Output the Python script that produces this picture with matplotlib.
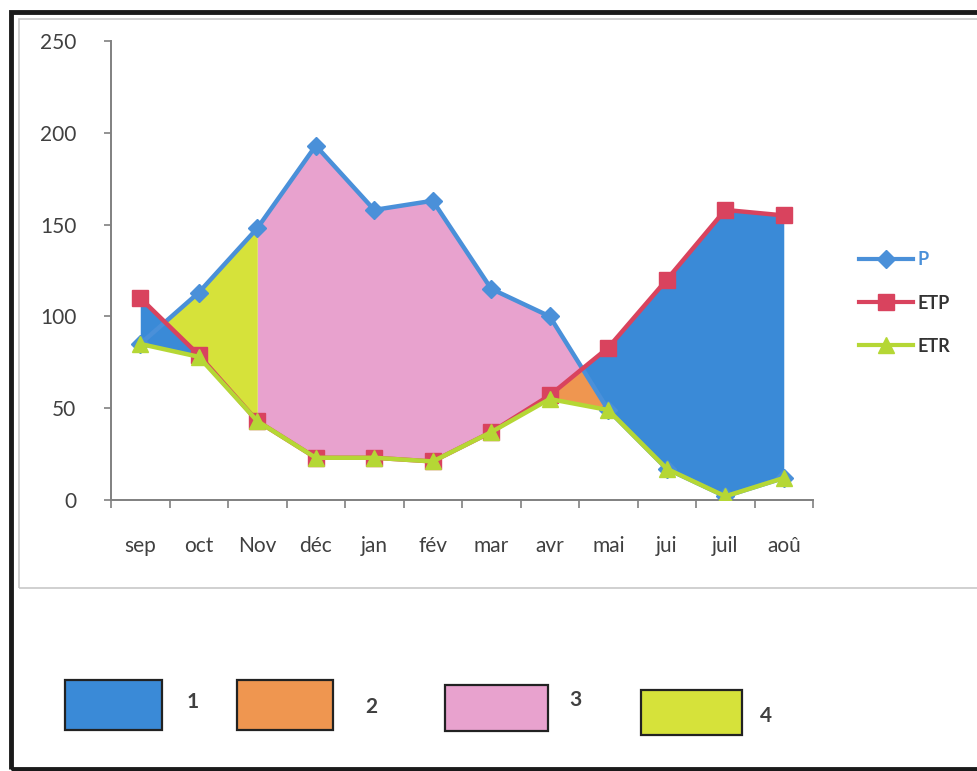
import numpy as np
import matplotlib.pyplot as plt
from matplotlib.lines import Line2D
from matplotlib.patches import Rectangle

# Monthly water balance (mm)
months = ['sep', 'oct', 'Nov', 'déc', 'jan', 'fév', 'mar', 'avr', 'mai', 'jui', 'juil', 'aoû']
P = [85, 113, 148, 193, 158, 163, 115, 100, 49, 17, 2, 12]
ETP = [110, 79, 43, 23, 23, 21, 37, 57, 83, 120, 158, 155]
ETR = [85, 78, 43, 23, 23, 21, 37, 55, 49, 17, 2, 12]

series_names = ['P', 'ETP', 'ETR']
zone_labels = ['1', '2', '3', '4']

c_p, c_etp, c_etr = '#4A90D9', '#D9435E', '#B5D735'
zone_colors = ['#3A8AD7', '#EF9650', '#E8A2CE', '#D6E23A']

plt.rcParams['font.family'] = ['Lato', 'DejaVu Sans']

fig = plt.figure(figsize=(9.78, 7.71), dpi=100)
ax = fig.add_axes([0.1135, 0.3515, 0.7178, 0.5953])

x = np.arange(len(months))
xs = np.linspace(0, len(months) - 1, 2201)
p_i = np.interp(xs, x, P)
etp_i = np.interp(xs, x, ETP)
etr_i = np.interp(xs, x, ETR)

def span(a, b):
    return (xs >= a) & (xs <= b)

# zone 1: deficit (autumn start and summer)
m = span(0, 1)
ax.fill_between(xs[m], etr_i[m], etp_i[m], color=zone_colors[0], lw=0, zorder=1)
m = span(7, 11)
ax.fill_between(xs[m], p_i[m], etp_i[m], where=etp_i[m] >= p_i[m],
                interpolate=True, color=zone_colors[0], lw=0, zorder=1)
# zone 2: soil reserve use
m = span(7, 8)
ax.fill_between(xs[m], etr_i[m], np.minimum(p_i[m], etp_i[m]),
                color=zone_colors[1], lw=0, zorder=1)
# zone 3: surplus
m = span(2, 8)
ax.fill_between(xs[m], etp_i[m], p_i[m], where=p_i[m] >= etp_i[m],
                interpolate=True, color=zone_colors[2], lw=0, zorder=1)
# zone 4: reserve recharge
m = span(0, 2)
ax.fill_between(xs[m], etp_i[m], p_i[m], where=p_i[m] >= etp_i[m],
                interpolate=True, color=zone_colors[3], lw=0, zorder=1)

ax.plot(x, P, color=c_p, lw=3.2, marker='D', ms=9, zorder=3, label=series_names[0])
ax.plot(x, ETP, color=c_etp, lw=3.2, marker='s', ms=11, zorder=4, label=series_names[1])
ax.plot(x, ETR, color=c_etr, lw=3.2, marker='^', ms=12, zorder=5, label=series_names[2])

ax.set_xlim(-0.5, 11.5)
ax.set_ylim(0, 250)
ax.set_yticks(range(0, 251, 50))
ax.set_xticks(x)
ax.set_xticklabels(months)
ax.set_xticks(np.arange(-0.5, 12, 1), minor=True)
ax.tick_params(axis='x', which='major', length=0, pad=26, labelsize=15, colors='#404040')
ax.tick_params(axis='x', which='minor', length=6, width=1.2, color='#808080', direction='out')
ax.tick_params(axis='y', length=5, width=1.2, color='#808080', pad=20,
               labelsize=15, labelcolor='#404040')
for side in ('top', 'right'):
    ax.spines[side].set_visible(False)
for side in ('left', 'bottom'):
    ax.spines[side].set_color('#808080')
    ax.spines[side].set_linewidth(1.4)
ax.set_facecolor('none')

handles = [
    Line2D([], [], color=c_p, lw=3, marker='D', ms=9),
    Line2D([], [], color=c_etp, lw=3, marker='s', ms=11),
    Line2D([], [], color=c_etr, lw=3, marker='^', ms=12),
]
leg = fig.legend(handles, series_names, loc='upper left',
                 bbox_to_anchor=(0.862, 0.695), frameon=False,
                 handlelength=3.0, handletextpad=0.2, labelspacing=1.45,
                 prop={'size': 13, 'weight': 'bold'})
leg.get_texts()[0].set_color(c_p)
for t in leg.get_texts()[1:]:
    t.set_color('#333333')

# chart area frame and outer border
W, H = 978, 771
fig.add_artist(Rectangle((19 / W, 1 - 588 / H), 1.0, (588 - 19) / H,
                         transform=fig.transFigure, fill=False,
                         ec='#c8c8c8', lw=1.2, zorder=0))
fig.add_artist(Rectangle((11 / W, 1 - 769 / H), 1.0, (769 - 12) / H,
                         transform=fig.transFigure, fill=False,
                         ec='#1a1a1a', lw=3.5, zorder=0))

# zone key boxes along the bottom
boxes = [(65, 680, 97, 50), (237, 680, 96, 50), (445, 685, 103, 46), (641, 690, 101, 45)]
label_pos = [(193, 702), (371, 707), (575, 700), (766, 716)]
for (bx, by, bw, bh), col, lab, (tx, ty) in zip(boxes, zone_colors, zone_labels, label_pos):
    fig.add_artist(Rectangle((bx / W, 1 - (by + bh) / H), bw / W, bh / H,
                             transform=fig.transFigure, fc=col, ec='#222222', lw=1.6))
    fig.text(tx / W, 1 - ty / H, lab, ha='center', va='center',
             fontsize=15, fontweight='bold', color='#404040')

fig.savefig('out.png', dpi=100, facecolor='white')
